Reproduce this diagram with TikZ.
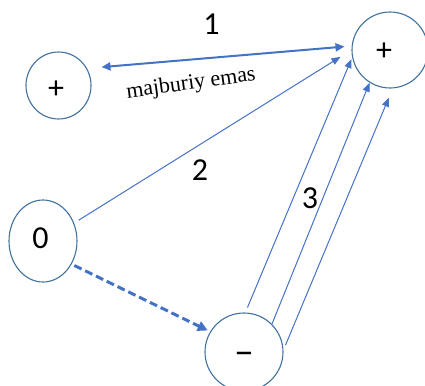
\documentclass[tikz,border=0pt]{standalone}
\usepackage{fontspec}
\setmainfont{Carlito}
\newfontfamily\timesfont{Liberation Serif}
\usetikzlibrary{arrows.meta,shapes.geometric}
\definecolor{arr}{HTML}{4472C4}
\definecolor{rim}{HTML}{41719C}
\begin{document}
\begin{tikzpicture}[x=1pt,y=-1pt,
  circ/.style={ellipse, draw=rim, line width=1.1pt, inner sep=0pt},
  lbl/.style={font=\fontsize{32}{36}\selectfont, inner sep=0pt},
  conn/.style={draw=arr, line width=1pt, -{Triangle[length=9pt,width=7pt]}},
  dbl/.style={draw=arr, line width=2pt, {Triangle[length=9pt,width=8pt]}-{Triangle[length=9pt,width=8pt]}},
  dsh/.style={draw=arr, line width=3pt, dash pattern=on 8pt off 4pt, -{Triangle[length=10pt,width=10pt]}}]
\useasboundingbox (0,0) rectangle (425,385);
\node[circ, minimum width=65pt, minimum height=67pt,
      label={[lbl,xshift=-2.5pt,yshift=-4.5pt]center:+}] (lp) at (58.5,85.5) {};
\node[circ, minimum width=76pt, minimum height=76pt,
      label={[lbl,xshift=-6pt,yshift=-1.7pt]center:+}] (rp) at (390,50) {};
\node[circ, minimum width=68pt, minimum height=82pt,
      label={[lbl,xshift=-2.5pt,yshift=3pt]center:0}] (zero) at (43,241) {};
\node[circ, minimum width=78pt, minimum height=78pt,
      label={[lbl,font=\fontsize{38}{40}\selectfont,xshift=0pt,yshift=-7pt]center:−}] (mn) at (244,352) {};
\draw[dbl, shorten <=14.5pt, shorten >=7.2pt] (lp.31.6) -- (rp.174.6);
\draw[conn, shorten <=5.3pt, shorten >=12.9pt] (zero.30.8) -- (rp.180.3);
\draw[conn, shorten <=5.4pt, shorten >=1.8pt] (mn.88.7) -- (rp.191.1);
\draw[conn] (mn.45.8) -- (rp.238.9);
\draw[conn, shorten <=5.3pt, shorten >=9.9pt] (mn.3.1) -- (rp.274.2);
\draw[dsh, shorten <=3pt, shorten >=2.7pt] (zero.321.3) -- (mn.149.5);
\node[lbl] (n1) at (211.5,24.5) {1};
\node[lbl] (n2) at (200,170) {2};
\node[lbl] (n3) at (310,198) {3};
\node[font=\timesfont\fontsize{22}{26}\selectfont, rotate=7.8, inner sep=0pt] (me) at (191,84) {majburiy emas};
\end{tikzpicture}
\end{document}
